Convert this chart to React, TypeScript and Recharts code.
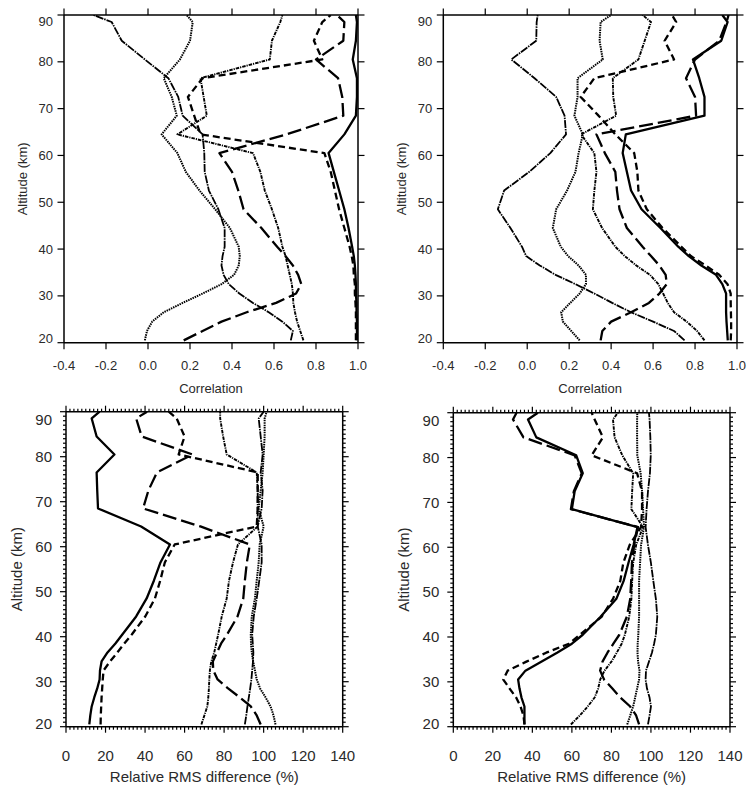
import React from 'react';
import { LineChart, Line, XAxis, YAxis } from 'recharts';

// Altitude grid (km)
const ALT = [20.5, 22.5, 24.5, 26.5, 28.5, 30.5, 32.5, 34.5, 36.5, 38.5, 40.5, 44.5, 48.5, 52.5, 56.5, 60.5, 64.5, 68.5, 72.5, 76.5, 80.5, 84.5, 88.5, 90];

// Top-left: correlation
const TL_S = [0.995, 0.995, 0.995, 0.993, 0.993, 0.99, 0.99, 0.988, 0.985, 0.98, 0.972, 0.955, 0.935, 0.91, 0.885, 0.86, 0.935, 0.99, 0.995, 0.995, 0.975, 0.99, 0.995, 0.99];
const TL_SD = [0.99, 0.99, 0.99, 0.99, 0.988, 0.985, 0.985, 0.98, 0.978, 0.97, 0.96, 0.935, 0.91, 0.89, 0.87, 0.84, 0.25, 0.22, 0.19, 0.26, 0.83, 0.79, 0.83, 0.87];
const TL_LD = [0.17, 0.26, 0.35, 0.47, 0.61, 0.705, 0.73, 0.715, 0.69, 0.655, 0.615, 0.54, 0.455, 0.43, 0.4, 0.34, 0.66, 0.93, 0.925, 0.905, 0.8, 0.93, 0.935, 0.9];
const TL_D = [0.74, 0.725, 0.71, 0.7, 0.692, 0.69, 0.685, 0.675, 0.665, 0.655, 0.64, 0.62, 0.59, 0.556, 0.535, 0.5, 0.14, 0.28, 0.265, 0.25, 0.58, 0.59, 0.63, 0.64];
const TL_E = [-0.015, -0.005, 0.02, 0.075, 0.165, 0.26, 0.35, 0.41, 0.432, 0.437, 0.432, 0.39, 0.32, 0.245, 0.18, 0.14, 0.065, 0.137, 0.113, 0.075, 0.152, 0.2, 0.213, 0.184];
const TL_F = [0.68, 0.69, 0.64, 0.575, 0.5, 0.435, 0.385, 0.36, 0.35, 0.355, 0.365, 0.365, 0.335, 0.29, 0.27, 0.268, 0.26, 0.165, 0.144, 0.097, -0.015, -0.125, -0.173, -0.26];

// Top-right: correlation
const TR_S = [0.956, 0.953, 0.95, 0.948, 0.948, 0.948, 0.93, 0.9, 0.83, 0.77, 0.72, 0.635, 0.545, 0.495, 0.475, 0.455, 0.47, 0.845, 0.845, 0.82, 0.79, 0.925, 0.955, 0.93];
const TR_SD = [0.97, 0.972, 0.972, 0.971, 0.97, 0.97, 0.955, 0.915, 0.85, 0.78, 0.735, 0.645, 0.57, 0.53, 0.525, 0.51, 0.42, 0.34, 0.255, 0.32, 0.7, 0.655, 0.71, 0.69];
const TR_LD = [0.35, 0.358, 0.4, 0.495, 0.58, 0.63, 0.665, 0.66, 0.63, 0.59, 0.55, 0.475, 0.44, 0.428, 0.42, 0.37, 0.33, 0.805, 0.8, 0.757, 0.8, 0.915, 0.95, 0.96];
const TR_D = [0.845, 0.81, 0.76, 0.7, 0.67, 0.648, 0.625, 0.585, 0.52, 0.465, 0.42, 0.357, 0.313, 0.32, 0.33, 0.32, 0.257, 0.424, 0.41, 0.408, 0.53, 0.56, 0.59, 0.55];
const TR_E = [0.25, 0.21, 0.17, 0.162, 0.205, 0.25, 0.28, 0.28, 0.245, 0.195, 0.16, 0.122, 0.138, 0.19, 0.23, 0.245, 0.265, 0.225, 0.24, 0.24, 0.36, 0.345, 0.35, 0.4];
const TR_F = [0.75, 0.7, 0.6, 0.495, 0.405, 0.32, 0.23, 0.135, 0.06, -0.005, -0.025, -0.08, -0.14, -0.11, 0.01, 0.11, 0.185, 0.178, 0.138, 0.035, -0.076, 0.043, 0.045, 0.05];

// Bottom-left: relative RMS difference (%)
const BL_S = [11.8, 12.3, 13, 14.3, 15.8, 17, 17.2, 18, 21, 25, 28.5, 35.5, 40.8, 44.5, 47.8, 52.6, 38, 16.2, 15.8, 15.5, 24.5, 15.5, 13, 17];
const BL_SD = [17.5, 17.6, 17.8, 18, 18.3, 18.6, 19, 22.3, 26, 29.5, 33.3, 40.1, 45, 47.7, 50, 55, 96.5, 97, 97, 97, 57, 60, 56, 52];
const BL_LD = [98.5, 96.5, 93.5, 88, 82, 76.7, 74.5, 74.3, 76.4, 78.5, 81.5, 86.8, 89.7, 90.5, 91.5, 93, 68, 39, 41.7, 46, 64, 38.3, 35.5, 41];
const BL_D = [68.5, 70, 71.5, 72, 72.3, 72.5, 72.8, 73.5, 75, 76, 77, 78.8, 81.3, 82.5, 84.5, 87, 97, 97, 97, 96.5, 81.3, 79.5, 78, 78];
const BL_E = [106, 105, 103.5, 101, 98.2, 96.5, 95.6, 94.7, 94, 93.6, 93.5, 94, 95.6, 96.5, 97.5, 98, 100, 97.5, 98.5, 99.5, 100, 100.5, 100.5, 101.5];
const BL_F = [90.5, 91.2, 91.8, 92.5, 93.2, 93.8, 94.2, 94.6, 94.8, 94.5, 94.2, 95, 96.5, 97.8, 99, 99, 97, 99, 99.5, 98.5, 99.5, 98.5, 97.5, 100];

// Bottom-right: relative RMS difference (%)
const BR_S = [36, 36, 36, 34.5, 33.5, 32.8, 36.5, 44.5, 52.5, 60, 65.5, 74.5, 82.5, 86.2, 88.6, 91.2, 93.2, 60, 61.4, 65.5, 62.2, 42, 37.8, 42.8];
const BR_SD = [36, 35.5, 34, 31.8, 28.5, 25.3, 27.5, 37, 47, 58.5, 64, 75, 80.8, 84.5, 86, 89.2, 95, 95.5, 95.5, 93, 70, 75.7, 71.5, 70];
const BR_LD = [94, 92.5, 89.5, 84.5, 80.5, 76.3, 74.3, 75.5, 78, 81, 84, 87.8, 89.5, 90, 90.4, 91.5, 93.5, 59.5, 61, 65, 61.4, 35.5, 30.2, 32];
const BR_D = [59.5, 64, 68, 71.5, 73.3, 74.3, 76.5, 80, 82.7, 85.2, 86.8, 89, 90.1, 90.5, 91, 92.5, 96, 90.1, 90.5, 91, 85.5, 81.6, 80.8, 83.3];
const BR_E = [88, 89.5, 91, 92, 93, 94, 94.2, 93.5, 93.2, 93.3, 93.6, 94, 94, 94, 94.5, 95, 96.5, 96, 95.5, 94.8, 93.1, 93, 93, 93.1];
const BR_F = [98.5, 99.3, 100, 99.3, 98, 97.3, 97.5, 99, 100.5, 101.6, 102.5, 103.2, 102.5, 101.2, 100, 98.5, 97.3, 97.8, 98.5, 99.5, 99.9, 99.7, 99.3, 99];

// Tick labels
const CORR_TICKS = [-0.4, -0.2, 0, 0.2, 0.4, 0.6, 0.8, 1.0];
const ALT_TICKS = [20, 30, 40, 50, 60, 70, 80, 90];
const RMS_TICKS = [0, 2, 4, 6, 8, 10, 12, 14, 16, 18, 20, 22, 24, 26, 28, 30, 32, 34, 36, 38, 40, 42, 44, 46, 48, 50, 52, 54, 56, 58, 60, 62, 64, 66, 68, 70, 72, 74, 76, 78, 80, 82, 84, 86, 88, 90, 92, 94, 96, 98, 100, 102, 104, 106, 108, 110, 112, 114, 116, 118, 120, 122, 124, 126, 128, 130, 132, 134, 136, 138, 140];
const ALT_TICKS_FINE = [20, 21, 22, 23, 24, 25, 26, 27, 28, 29, 30, 31, 32, 33, 34, 35, 36, 37, 38, 39, 40, 41, 42, 43, 44, 45, 46, 47, 48, 49, 50, 51, 52, 53, 54, 55, 56, 57, 58, 59, 60, 61, 62, 63, 64, 65, 66, 67, 68, 69, 70, 71, 72, 73, 74, 75, 76, 77, 78, 79, 80, 81, 82, 83, 84, 85, 86, 87, 88, 89, 90];

const KEYS = ['F', 'E', 'D', 'LD', 'SD', 'S'];
const STYLE: Record<string, { dash?: string; w: number }> = {
  S: { w: 2.3 },
  SD: { dash: '7 4', w: 2.3 },
  LD: { dash: '14 5', w: 2.3 },
  D: { dash: '3.5 1 1.2 1', w: 1.9 },
  E: { dash: '1.5 0.9', w: 2 },
  F: { dash: '8 1 1.5 1', w: 1.8 },
};

const FONT = '"Liberation Sans", Arial, Helvetica, sans-serif';
const TXT = '#2a2a2a';
const INK = '#000';

type Cfg = {
  left: number; top: number; width: number; height: number;
  axL: number; axR: number; axT: number; axB: number;
  xDomain: [number, number]; xTicks: number[]; yTicks: number[];
  big: boolean; xTitle: string; series: number[][];
};

const mkRows = (s: number[][]) =>
  ALT.map((alt, i) => ({ alt, S: s[0][i], SD: s[1][i], LD: s[2][i], D: s[3][i], E: s[4][i], F: s[5][i] }));

const PANELS: Cfg[] = [
  { left: 0, top: 0, width: 374, height: 400, axL: 64, axR: 16, axT: 15, axB: 57.3,
    xDomain: [-0.4, 1.0], xTicks: CORR_TICKS, yTicks: ALT_TICKS, big: false, xTitle: 'Correlation',
    series: [TL_S, TL_SD, TL_LD, TL_D, TL_E, TL_F] },
  { left: 374, top: 0, width: 373, height: 400, axL: 69.3, axR: 10, axT: 15, axB: 57.3,
    xDomain: [-0.4, 1.0], xTicks: CORR_TICKS, yTicks: ALT_TICKS, big: false, xTitle: 'Correlation',
    series: [TR_S, TR_SD, TR_LD, TR_D, TR_E, TR_F] },
  { left: 0, top: 400, width: 374, height: 385, axL: 66, axR: 31.3, axT: 11.7, axB: 58.3,
    xDomain: [0, 140], xTicks: RMS_TICKS, yTicks: ALT_TICKS_FINE, big: true, xTitle: 'Relative RMS difference (%)',
    series: [BL_S, BL_SD, BL_LD, BL_D, BL_E, BL_F] },
  { left: 374, top: 400, width: 373, height: 385, axL: 79.3, axR: 17, axT: 12.7, axB: 58.3,
    xDomain: [0, 140], xTicks: RMS_TICKS, yTicks: ALT_TICKS_FINE, big: true, xTitle: 'Relative RMS difference (%)',
    series: [BR_S, BR_SD, BR_LD, BR_D, BR_E, BR_F] },
];

const AXIS_LINE = { stroke: INK, strokeWidth: 1.5 };

function Panel({ cfg }: { cfg: Cfg }) {
  const rows = mkRows(cfg.series);
  const fs = cfg.big ? 15 : 13;
  const major = cfg.big ? 6 : 6.5;
  const minor = 3;
  const isMajorX = (v: number) => !cfg.big || Math.abs(v % 20) < 1e-6;
  const isMajorY = (v: number) => !cfg.big || Math.abs(v % 10) < 1e-6;
  const fmtX = (v: number) => (cfg.big ? String(v) : v.toFixed(1));
  const xLabDy = cfg.big ? 34 : 27;
  const yLabDx = cfg.big ? 14 : 11;
  const yTitleDx = cfg.big ? 49.3 : 42;
  const xTitleDy = cfg.big ? 55.3 : 50;
  const plotBottom = cfg.height - cfg.axB;
  const plotMidX = cfg.axL + (cfg.width - cfg.axL - cfg.axR) / 2;
  const plotMidY = cfg.axT + (cfg.height - cfg.axT - cfg.axB) / 2;

  const bottomTick = (p: any) => {
    const v = p.payload.value;
    const m = isMajorX(v);
    return (
      <g>
        <line x1={p.x} x2={p.x} y1={p.y} y2={p.y + (m ? major : minor)} stroke={INK} strokeWidth={1.2} />
        {m && (
          <text x={p.x} y={p.y + xLabDy} textAnchor="middle" fontSize={fs} fontFamily={FONT} fill={TXT}>
            {fmtX(v)}
          </text>
        )}
      </g>
    );
  };
  const topTick = (p: any) => {
    const m = isMajorX(p.payload.value);
    return <line x1={p.x} x2={p.x} y1={p.y} y2={p.y - (m ? major : minor)} stroke={INK} strokeWidth={1.2} />;
  };
  const leftTick = (p: any) => {
    const v = p.payload.value;
    const m = isMajorY(v);
    const shift = v === 90 ? (cfg.big ? 7.6 : 6.7) : v === 20 ? (cfg.big ? -3.4 : -4.4) : 0;
    return (
      <g>
        <line x1={p.x} x2={p.x - (m ? major : minor)} y1={p.y} y2={p.y} stroke={INK} strokeWidth={1.2} />
        {m && (
          <text x={p.x - yLabDx} y={p.y + shift} dy="0.35em" textAnchor="end" fontSize={fs} fontFamily={FONT} fill={TXT}>
            {v}
          </text>
        )}
      </g>
    );
  };
  const rightTick = (p: any) => {
    const m = isMajorY(p.payload.value);
    return <line x1={p.x} x2={p.x + (m ? major : minor)} y1={p.y} y2={p.y} stroke={INK} strokeWidth={1.2} />;
  };

  const xTitle = () => (
    <text x={plotMidX} y={plotBottom + xTitleDy} textAnchor="middle" fontSize={fs} fontFamily={FONT} fill={TXT}>
      {cfg.xTitle}
    </text>
  );
  const yTitle = () => {
    const cx = cfg.axL - yTitleDx;
    return (
      <text x={cx} y={plotMidY} dy="0.35em" transform={`rotate(-90 ${cx} ${plotMidY})`} textAnchor="middle" fontSize={fs} fontFamily={FONT} fill={TXT}>
        Altitude (km)
      </text>
    );
  };

  return (
    <div style={{ position: 'absolute', left: cfg.left, top: cfg.top, width: cfg.width, height: cfg.height }}>
      <LineChart width={cfg.width} height={cfg.height} data={rows} layout="vertical" margin={{ top: 0, right: 0, bottom: 0, left: 0 }}>
        <XAxis xAxisId="b" orientation="bottom" type="number" domain={cfg.xDomain} ticks={cfg.xTicks} interval={0}
          allowDataOverflow height={cfg.axB} tickLine={false} tickSize={0} tickMargin={0} axisLine={AXIS_LINE}
          tick={bottomTick} label={xTitle} />
        <XAxis xAxisId="t" orientation="top" type="number" domain={cfg.xDomain} ticks={cfg.xTicks} interval={0}
          allowDataOverflow height={cfg.axT} tickLine={false} tickSize={0} tickMargin={0} axisLine={AXIS_LINE}
          tick={topTick} />
        <YAxis yAxisId="l" orientation="left" type="number" dataKey="alt" domain={[20, 90]} ticks={cfg.yTicks} interval={0}
          allowDataOverflow reversed width={cfg.axL} tickLine={false} tickSize={0} tickMargin={0} axisLine={AXIS_LINE}
          tick={leftTick} label={yTitle} />
        <YAxis yAxisId="r" orientation="right" type="number" dataKey="alt" domain={[20, 90]} ticks={cfg.yTicks} interval={0}
          allowDataOverflow reversed width={cfg.axR} tickLine={false} tickSize={0} tickMargin={0} axisLine={AXIS_LINE}
          tick={rightTick} />
        {KEYS.map((k) => (
          <Line key={k} xAxisId="b" yAxisId="l" type="linear" dataKey={k} stroke={INK}
            strokeWidth={STYLE[k].w} strokeDasharray={STYLE[k].dash} dot={false} activeDot={false}
            isAnimationActive={false} strokeLinejoin="round" />
        ))}
      </LineChart>
    </div>
  );
}

export default function App() {
  return (
    <div style={{ position: 'absolute', left: 0, top: 0, width: 747, height: 785, background: '#fff' }}>
      {PANELS.map((c, i) => (
        <Panel key={i} cfg={c} />
      ))}
    </div>
  );
}
